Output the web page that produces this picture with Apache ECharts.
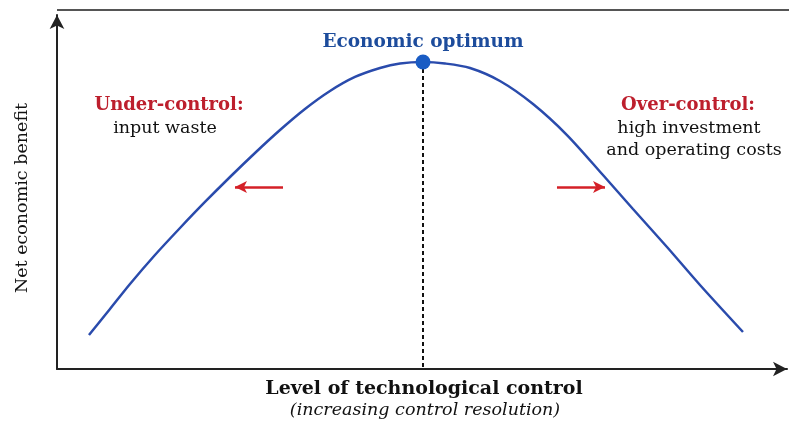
<!DOCTYPE html>
<html>
<head>
<meta charset="utf-8">
<script src="https://cdn.jsdelivr.net/npm/echarts@6/dist/echarts.min.js"></script>
<style>
html,body{margin:0;padding:0;background:#fff;}
#chart{width:789px;height:425px;}
</style>
</head>
<body>
<div id="chart"></div>
<script>
// Level of technological control (0-100) and net economic benefit (0-100)
const controlLevel = [4.38, 7.26, 10.00, 13.42, 16.85, 20.27, 23.70, 27.12, 30.55, 33.97, 37.40, 40.82, 44.25, 46.99, 50.14,
                      53.15, 56.58, 60.68, 65.21, 69.86, 74.79, 78.90, 83.56, 88.08, 93.97];
const netBenefit   = [9.60, 16.95, 24.01, 32.20, 39.83, 47.18, 54.24, 61.02, 67.51, 73.45, 78.53, 82.49, 85.03, 86.30, 86.72,
                      86.30, 85.03, 81.36, 74.86, 66.10, 54.80, 45.20, 34.46, 23.73, 10.45];
const optimum = [50.14, 86.72];
const leftArrow = [[30.96, 51.41], [24.38, 51.41]];
const rightArrow = [[68.49, 51.41], [75.07, 51.41]];

const serif = '"DejaVu Serif", "Liberation Serif", serif';
const chart = echarts.init(document.getElementById('chart'), null, {renderer: 'canvas'});
const curve = controlLevel.map((x, i) => [x, netBenefit[i]]);

chart.setOption({
  animation: false,
  backgroundColor: '#ffffff',
  grid: {left: 57, right: 2, top: 15, bottom: 56},
  xAxis: {
    type: 'value', min: 0, max: 100,
    axisLine: {show: true, symbol: ['none', 'arrow'], symbolSize: [11, 14], lineStyle: {color: '#222', width: 2}},
    axisTick: {show: false}, axisLabel: {show: false}, splitLine: {show: false}
  },
  yAxis: {
    type: 'value', min: 0, max: 100,
    axisLine: {show: true, symbol: ['none', 'arrow'], symbolSize: [11, 14], lineStyle: {color: '#222', width: 2}},
    axisTick: {show: false}, axisLabel: {show: false}, splitLine: {show: false}
  },
  graphic: [
    {type: 'line', shape: {x1: 57, y1: 10, x2: 789, y2: 10}, style: {stroke: '#555', lineWidth: 2}},
    {type: 'text', x: 22, y: 198, rotation: Math.PI / 2, style: {text: 'Net economic benefit', font: '17.5px ' + serif, fill: '#111', align: 'center', verticalAlign: 'middle'}},
    {type: 'text', x: 424, y: 389, style: {text: 'Level of technological control', font: 'bold 19px ' + serif, fill: '#111', align: 'center', verticalAlign: 'middle'}},
    {type: 'text', x: 425, y: 410, style: {text: '(increasing control resolution)', font: 'italic 17.5px ' + serif, fill: '#111', align: 'center', verticalAlign: 'middle'}},
    {type: 'text', x: 169, y: 105, style: {text: 'Under-control:', font: 'bold 18px ' + serif, fill: '#bd1f2d', align: 'center', verticalAlign: 'middle'}},
    {type: 'text', x: 165, y: 128, style: {text: 'input waste', font: '17.5px ' + serif, fill: '#111', align: 'center', verticalAlign: 'middle'}},
    {type: 'text', x: 688, y: 105, style: {text: 'Over-control:', font: 'bold 18px ' + serif, fill: '#bd1f2d', align: 'center', verticalAlign: 'middle'}},
    {type: 'text', x: 689, y: 128, style: {text: 'high investment', font: '17.5px ' + serif, fill: '#111', align: 'center', verticalAlign: 'middle'}},
    {type: 'text', x: 694, y: 150, style: {text: 'and operating costs', font: '17.5px ' + serif, fill: '#111', align: 'center', verticalAlign: 'middle'}}
  ],
  series: [
    {
      type: 'line', data: curve, smooth: 0.3, showSymbol: false,
      lineStyle: {color: '#2a4bac', width: 2.5},
      markLine: {
        silent: true, symbol: ['none', 'arrow'], symbolSize: [9, 12],
        lineStyle: {color: '#d42027', width: 2.5, type: 'solid'},
        label: {show: false},
        data: [
          [{coord: leftArrow[0]}, {coord: leftArrow[1]}],
          [{coord: rightArrow[0]}, {coord: rightArrow[1]}]
        ]
      }
    },
    {
      type: 'scatter', data: [optimum], symbolSize: 15,
      itemStyle: {color: '#1a5cc4', opacity: 1},
      label: {show: true, position: 'top', distance: 3, formatter: 'Economic optimum', fontFamily: serif, fontWeight: 'bold', fontSize: 18.5, color: '#1d4c9c'},
      markLine: {
        silent: true, symbol: ['none', 'none'],
        lineStyle: {color: '#111', width: 2, type: [4, 3]},
        label: {show: false},
        data: [[{coord: optimum}, {coord: [optimum[0], 0]}]]
      },
      z: 5
    }
  ]
});
</script>
</body>
</html>
